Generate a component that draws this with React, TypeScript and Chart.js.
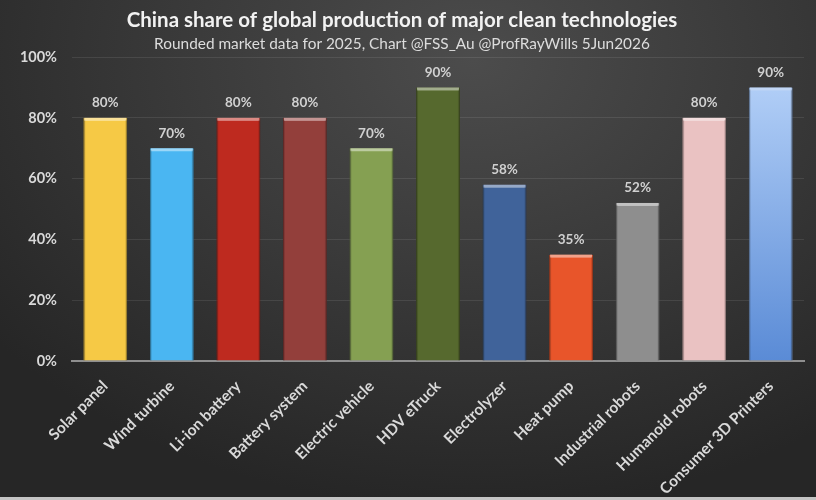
import React, { useEffect, useRef } from "react";
import { Chart, registerables } from "chart.js";

Chart.register(...registerables);

const categories = [
  "Solar panel",
  "Wind turbine",
  "Li-ion battery",
  "Battery system",
  "Electric vehicle",
  "HDV eTruck",
  "Electrolyzer",
  "Heat pump",
  "Industrial robots",
  "Humanoid robots",
  "Consumer 3D Printers",
];
const shares = [80, 70, 80, 80, 70, 90, 58, 35, 52, 80, 90];
const barColors = [
  "#F6C945",
  "#4AB6F2",
  "#BE2A1F",
  "#933F3B",
  "#85A052",
  "#56692E",
  "#40639A",
  "#E8552A",
  "#8E8E8E",
  "#EAC2C2",
  "#8FB5EC",
];
const yTicks = [0, 20, 40, 60, 80, 100];
const titleText = "China share of global production of major clean technologies";
const subtitleText = "Rounded market data for 2025, Chart @FSS_Au @ProfRayWills 5Jun2026";

const FONT = "Lato, 'Open Sans', sans-serif";

function shade(hex: string, amt: number) {
  const n = parseInt(hex.slice(1), 16);
  let r = (n >> 16) & 255, g = (n >> 8) & 255, b = n & 255;
  const f = (c: number) => Math.max(0, Math.min(255, Math.round(amt >= 0 ? c + (255 - c) * amt : c * (1 + amt))));
  r = f(r); g = f(g); b = f(b);
  return `rgb(${r},${g},${b})`;
}

const labelPlugin = {
  id: "barLabels",
  afterDatasetsDraw(chart: any) {
    const { ctx } = chart;
    const meta = chart.getDatasetMeta(0);
    ctx.save();
    meta.data.forEach((bar: any, i: number) => {
      const w = bar.width;
      const x0 = bar.x - w / 2;
      ctx.fillStyle = shade(barColors[i], 0.45);
      ctx.fillRect(x0 + 1, bar.y, w - 2, 3);
      ctx.fillStyle = "rgba(0,0,0,0.12)";
      ctx.fillRect(x0, bar.y + 2, 2, bar.base - bar.y - 2);
      ctx.fillRect(x0 + w - 2, bar.y + 2, 2, bar.base - bar.y - 2);
      ctx.fillStyle = "#d0d0d0";
      ctx.font = `bold 13.5px ${FONT}`;
      ctx.textAlign = "center";
      ctx.textBaseline = "middle";
      ctx.fillText(shares[i] + "%", bar.x, bar.y - 15);
    });
    ctx.restore();
  },
};

export default function App() {
  const ref = useRef<HTMLCanvasElement>(null);
  useEffect(() => {
    document.body.style.margin = "0";
    const canvas = ref.current!;
    const chart = new Chart(canvas, {
      type: "bar",
      data: {
        labels: categories,
        datasets: [
          {
            data: shares,
            backgroundColor: (c: any) => {
              const i = c.dataIndex;
              if (i === 10 && c.chart.chartArea) {
                const el = c.element;
                const area = c.chart.chartArea;
                const g = c.chart.ctx.createLinearGradient(0, el && el.y ? el.y : area.top, 0, area.bottom);
                g.addColorStop(0, "#BAD5FA");
                g.addColorStop(1, "#5A8BD6");
                return g;
              }
              return barColors[i];
            },
            borderColor: barColors.map((c) => shade(c, -0.25)),
            borderWidth: 1,
            borderSkipped: "bottom",
            barPercentage: 1,
            categoryPercentage: 0.66,
          },
        ],
      },
      options: {
        responsive: false,
        animation: false,
        layout: { padding: { left: 0, right: 12, top: 3, bottom: 0 } },
        plugins: {
          legend: { display: false },
          tooltip: { enabled: false },
          title: {
            display: true,
            text: titleText,
            color: "#f2f2f2",
            font: { family: FONT, size: 20.5, weight: "bold" },
            padding: { top: 5, bottom: 2 },
          },
          subtitle: {
            display: true,
            text: subtitleText,
            color: "#dcdcdc",
            font: { family: FONT, size: 15.4, weight: "normal" },
            padding: { top: 0, bottom: 4 },
          },
        },
        scales: {
          x: {
            grid: { display: false, drawTicks: false },
            border: { display: true, color: "#8f8f8f", width: 2 },
            afterFit: (axis: any) => {
              axis.height = 136;
              axis.paddingLeft = 0;
              axis.paddingRight = 0;
            },
            ticks: {
              color: "#d9d9d9",
              font: { family: FONT, size: 15.5, weight: "bold" },
              maxRotation: 45,
              minRotation: 45,
              padding: 16,
              autoSkip: false,
            },
          },
          y: {
            min: 0,
            max: 100,
            afterFit: (axis: any) => {
              axis.width = 72;
            },
            afterBuildTicks: (axis: any) => {
              axis.ticks = yTicks.map((v) => ({ value: v }));
            },
            grid: { color: "rgba(255,255,255,0.09)", drawTicks: false, lineWidth: 1 },
            border: { display: false },
            ticks: {
              color: "#d9d9d9",
              font: { family: FONT, size: 14.5, weight: "bold" },
              padding: 15,
              callback: (v: any) => v + "%",
            },
          },
        },
      },
      plugins: [labelPlugin],
    } as any);
    return () => chart.destroy();
  }, []);
  return (
    <div
      style={{
        position: "relative",
        width: 816,
        height: 500,
        background:
          "radial-gradient(ellipse 75% 90% at 58% 12%, #4c4c4c 0%, #3b3b3b 45%, #262626 100%)",
        overflow: "hidden",
      }}
    >
      <canvas ref={ref} width={816} height={497} style={{ display: "block" }} />
      <div style={{ position: "absolute", left: 0, bottom: 0, width: 816, height: 3, background: "#c4c4c4" }} />
    </div>
  );
}
